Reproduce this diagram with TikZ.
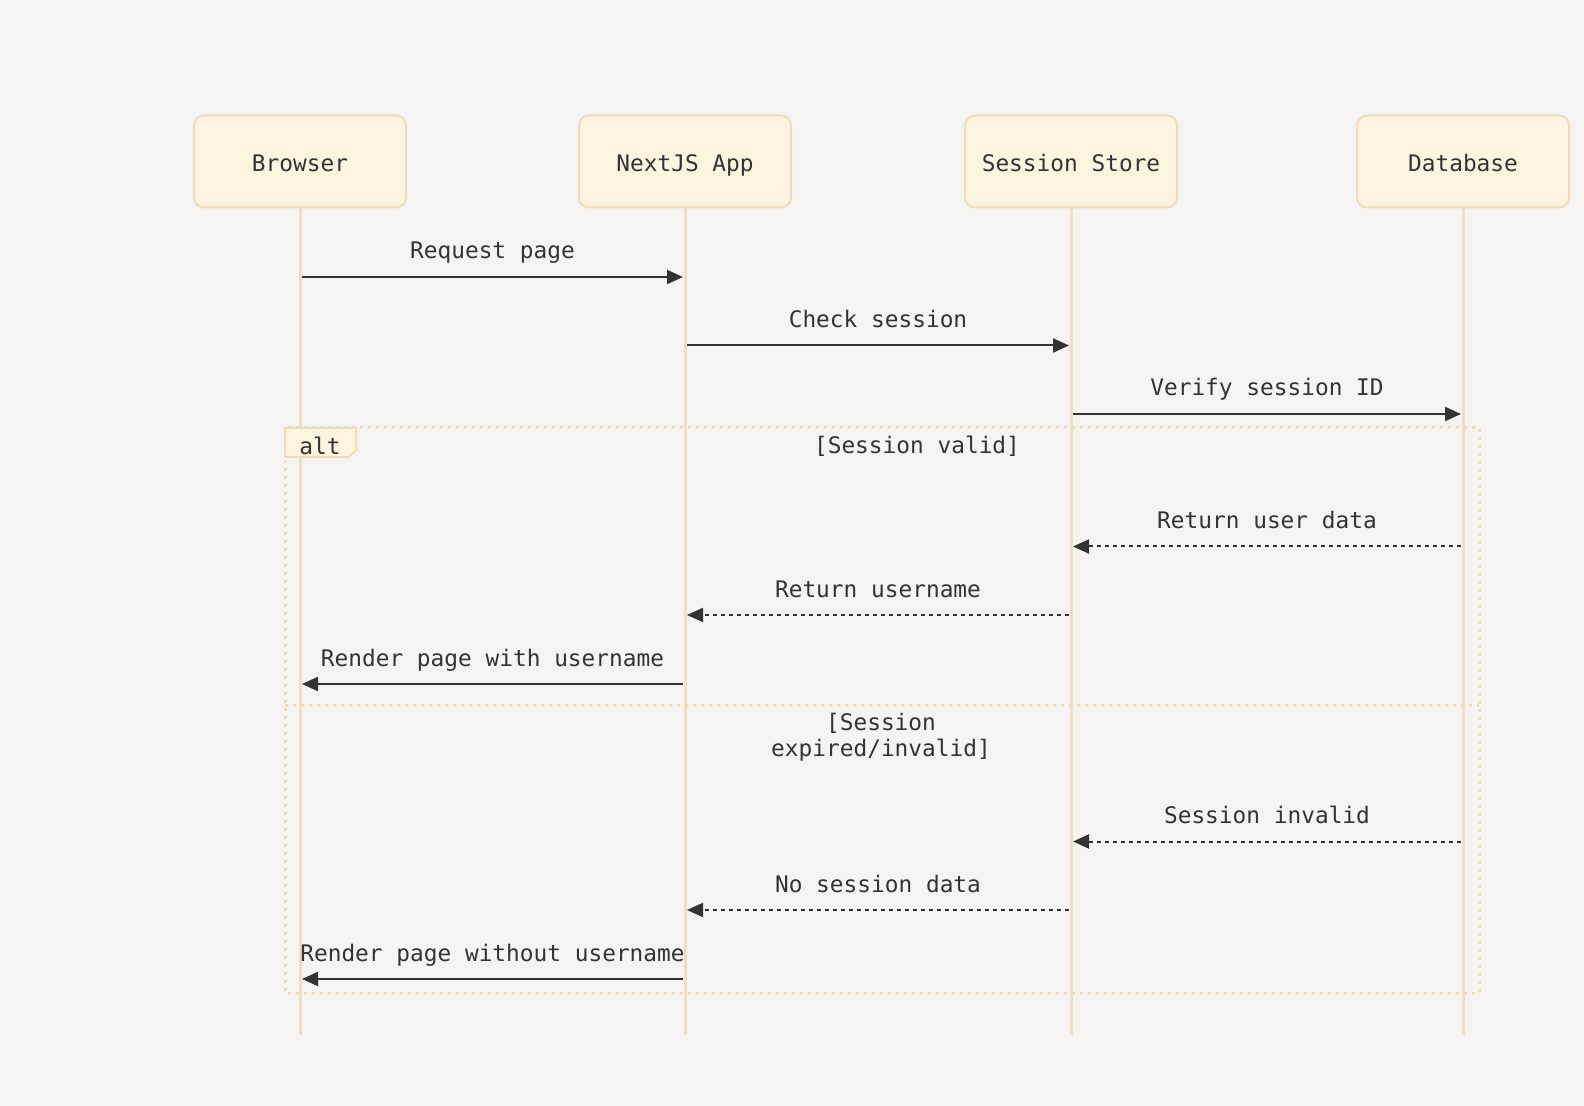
\documentclass[tikz,border=0pt]{standalone}
\usepackage{fontspec}
\setmainfont{DejaVu Sans Mono}
\usepackage{xcolor}
\usetikzlibrary{arrows.meta,positioning}

\definecolor{bgcol}{HTML}{F5F4F2}
\definecolor{actfill}{HTML}{FDF4E0}
\definecolor{actline}{HTML}{EEDDBB}
\definecolor{lifecol}{HTML}{EDDFC4}
\definecolor{ink}{HTML}{333333}

\newcommand{\seqfont}{\fontsize{11.4}{13.2}\selectfont}

\begin{document}
\begin{tikzpicture}[x=0.5pt,y=-0.5pt,
  actor/.style={draw=actline,fill=actfill,line width=1pt,rounded corners=5pt,minimum width=106pt,minimum height=46pt,font=\seqfont,text=ink,text height=11pt,text depth=0.5pt},
  life/.style={draw=lifecol,line width=1.5pt},
  sync/.style={draw=ink,line width=1pt,-{Triangle[length=8pt,width=7pt]},shorten <=1pt,shorten >=1pt},
  reply/.style={sync,dash pattern=on 2.2pt off 1.8pt},
  lbl/.style={font=\seqfont,text=ink,yshift=12pt,inner sep=0pt,text height=8.5pt,text depth=2.5pt},
  frame/.style={draw=actline,line width=1.5pt,dash pattern=on 1.5pt off 2.5pt},
  guard/.style={font=\seqfont,text=ink,align=center,inner sep=0pt}]
  \fill[bgcol] (0,0) rectangle (1584,1106);
  \useasboundingbox (0,0) rectangle (1584,1106);
  % participants
  \node[actor] (browser) at (300,161.5)  {Browser};
  \node[actor] (nextjs)  at (685,161.5)  {NextJS App};
  \node[actor] (store)   at (1071,161.5) {Session Store};
  \node[actor] (db)      at (1463,161.5) {Database};
  \coordinate (browser-end) at (300,1035);
  \coordinate (nextjs-end)  at (685,1035);
  \coordinate (store-end)   at (1071,1035);
  \coordinate (db-end)      at (1463,1035);
  \draw[life] (browser) -- (browser-end);
  \draw[life] (nextjs) -- (nextjs-end);
  \draw[life] (store) -- (store-end);
  \draw[life] (db) -- (db-end);
  % message rows
  \coordinate (m1) at (0,277);
  \coordinate (m2) at (0,345.5);
  \coordinate (m3) at (0,414);
  \coordinate (m4) at (0,546.5);
  \coordinate (m5) at (0,615);
  \coordinate (m6) at (0,684);
  \coordinate (m7) at (0,841.5);
  \coordinate (m8) at (0,910);
  \coordinate (m9) at (0,979);
  % alt frame
  \draw[frame] (285,428) rectangle (1479,993);
  \draw[frame] (285,705) -- (1479,705);
  \draw[draw=actline,fill=actfill,line width=1pt] (285,428) -- (356,428) -- (356,450) -- (349,457) -- (285,457) -- cycle;
  \node[guard] (alt)     at (320,446)   {alt};
  \node[guard] (valid)   at (917,446.5) {[Session valid]};
  \node[guard] (expired) at (881,737.5) {[Session\\expired/invalid]};
  % messages
  \draw[sync]  (browser |- m1) -- node[lbl]{Request page} (nextjs |- m1);
  \draw[sync]  (nextjs |- m2) -- node[lbl]{Check session} (store |- m2);
  \draw[sync]  (store |- m3) -- node[lbl]{Verify session ID} (db |- m3);
  \draw[reply] (db |- m4) -- node[lbl]{Return user data} (store |- m4);
  \draw[reply] (store |- m5) -- node[lbl]{Return username} (nextjs |- m5);
  \draw[sync]  (nextjs |- m6) -- node[lbl]{Render page with username} (browser |- m6);
  \draw[reply] (db |- m7) -- node[lbl]{Session invalid} (store |- m7);
  \draw[reply] (store |- m8) -- node[lbl]{No session data} (nextjs |- m8);
  \draw[sync]  (nextjs |- m9) -- node[lbl]{Render page without username} (browser |- m9);
\end{tikzpicture}
\end{document}
